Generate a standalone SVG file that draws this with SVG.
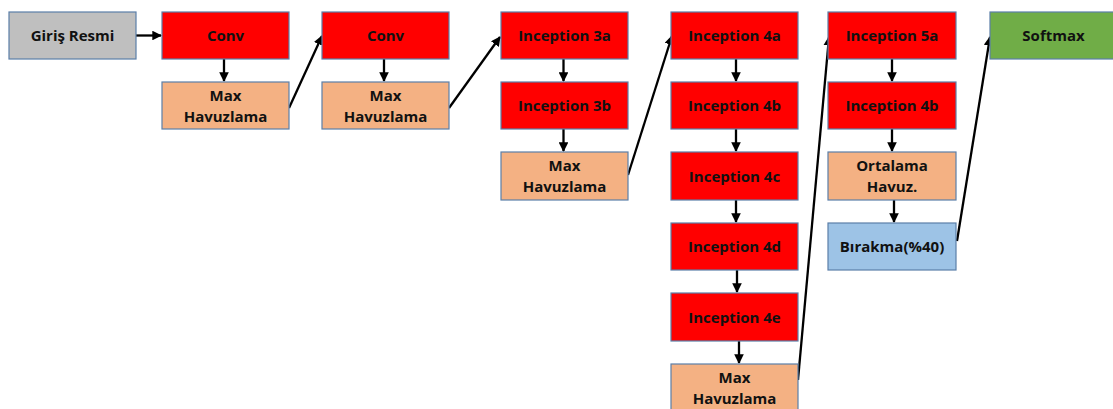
<svg xmlns="http://www.w3.org/2000/svg" width="1113" height="409" viewBox="0 0 1113 409">
  <style>
    .box { stroke: #5b7fa8; stroke-width: 1.2; }
    .red { fill: #ff0000; }
    .pool { fill: #f4b183; }
    .grey { fill: #bfbfbf; }
    .blue { fill: #9dc3e6; }
    .green { fill: #70ad47; }
    text { font-family: "Open Sans", "Liberation Sans", sans-serif; font-weight: bold; font-size: 15px; fill: #111; text-anchor: middle; font-variant-ligatures: none; }
    .link { stroke: #000; stroke-width: 2.3; fill: none; marker-end: url(#arrow); }
  </style>
  <defs>
    <marker id="arrow" viewBox="0 0 10 10" refX="9" refY="5" markerWidth="4.2" markerHeight="4.2" orient="auto" markerUnits="strokeWidth">
      <path d="M0,0 L10,5 L0,10 z" fill="#000"/>
    </marker>
  </defs>

  <rect width="1113" height="409" fill="#fff"/>

  <g id="connectors">
    <line class="link" x1="136" y1="35.5" x2="161" y2="35.5"/>
    <line class="link" x1="224" y1="59" x2="224" y2="81"/>
    <line class="link" x1="289" y1="108" x2="322" y2="36"/>
    <line class="link" x1="384" y1="59" x2="384" y2="81"/>
    <line class="link" x1="449" y1="108" x2="500" y2="37"/>
    <line class="link" x1="563.5" y1="59" x2="563.5" y2="81"/>
    <line class="link" x1="563.5" y1="129" x2="563.5" y2="151"/>
    <line class="link" x1="628" y1="175" x2="672" y2="36"/>
    <line class="link" x1="736" y1="59" x2="736" y2="81"/>
    <line class="link" x1="736" y1="129" x2="736" y2="151"/>
    <line class="link" x1="736" y1="200" x2="736" y2="222"/>
    <line class="link" x1="737" y1="270" x2="737" y2="292"/>
    <line class="link" x1="739" y1="341" x2="739" y2="363"/>
    <line class="link" x1="798" y1="380" x2="829" y2="37"/>
    <line class="link" x1="892" y1="59" x2="892" y2="81"/>
    <line class="link" x1="892" y1="129" x2="892" y2="151"/>
    <line class="link" x1="894" y1="200" x2="894" y2="222"/>
    <line class="link" x1="957" y1="241" x2="990" y2="37"/>
  </g>

  <g id="input">
    <rect class="box grey" x="9" y="12" width="127" height="47"/>
    <text x="72.5" y="41">Giriş Resmi</text>
  </g>
  <g id="conv1">
    <rect class="box red" x="162" y="12" width="127" height="47"/>
    <text x="225.5" y="41">Conv</text>
  </g>
  <g id="pool1">
    <rect class="box pool" x="162" y="82" width="127" height="47"/>
    <text x="225.5" y="101">Max</text>
    <text x="225.5" y="122">Havuzlama</text>
  </g>
  <g id="conv2">
    <rect class="box red" x="322" y="12" width="127" height="47"/>
    <text x="385.5" y="41">Conv</text>
  </g>
  <g id="pool2">
    <rect class="box pool" x="322" y="82" width="127" height="47"/>
    <text x="385.5" y="101">Max</text>
    <text x="385.5" y="122">Havuzlama</text>
  </g>
  <g id="inception3a">
    <rect class="box red" x="501" y="12" width="127" height="47"/>
    <text x="564.5" y="41">Inception 3a</text>
  </g>
  <g id="inception3b">
    <rect class="box red" x="501" y="82" width="127" height="47"/>
    <text x="564.5" y="111">Inception 3b</text>
  </g>
  <g id="pool3">
    <rect class="box pool" x="501" y="152" width="127" height="48"/>
    <text x="564.5" y="171">Max</text>
    <text x="564.5" y="192">Havuzlama</text>
  </g>
  <g id="inception4a">
    <rect class="box red" x="671" y="12" width="127" height="47"/>
    <text x="734.5" y="41">Inception 4a</text>
  </g>
  <g id="inception4b">
    <rect class="box red" x="671" y="82" width="127" height="47"/>
    <text x="734.5" y="111">Inception 4b</text>
  </g>
  <g id="inception4c">
    <rect class="box red" x="671" y="152" width="127" height="48"/>
    <text x="734.5" y="181.5">Inception 4c</text>
  </g>
  <g id="inception4d">
    <rect class="box red" x="671" y="223" width="127" height="47"/>
    <text x="734.5" y="252">Inception 4d</text>
  </g>
  <g id="inception4e">
    <rect class="box red" x="671" y="293" width="127" height="48"/>
    <text x="734.5" y="322.5">Inception 4e</text>
  </g>
  <g id="pool4">
    <rect class="box pool" x="671" y="364" width="127" height="47"/>
    <text x="734.5" y="383">Max</text>
    <text x="734.5" y="404">Havuzlama</text>
  </g>
  <g id="inception5a">
    <rect class="box red" x="828" y="12" width="128" height="47"/>
    <text x="892" y="41">Inception 5a</text>
  </g>
  <g id="inception5b">
    <rect class="box red" x="828" y="82" width="128" height="47"/>
    <text x="892" y="111">Inception 4b</text>
  </g>
  <g id="avgpool">
    <rect class="box pool" x="828" y="152" width="128" height="48"/>
    <text x="892" y="171">Ortalama</text>
    <text x="892" y="192">Havuz.</text>
  </g>
  <g id="dropout">
    <rect class="box blue" x="828" y="223" width="128" height="47"/>
    <text x="892" y="252">Bırakma(%40)</text>
  </g>
  <g id="softmax">
    <rect class="box green" x="990" y="12" width="127" height="47"/>
    <text x="1053.5" y="41">Softmax</text>
  </g>
</svg>
